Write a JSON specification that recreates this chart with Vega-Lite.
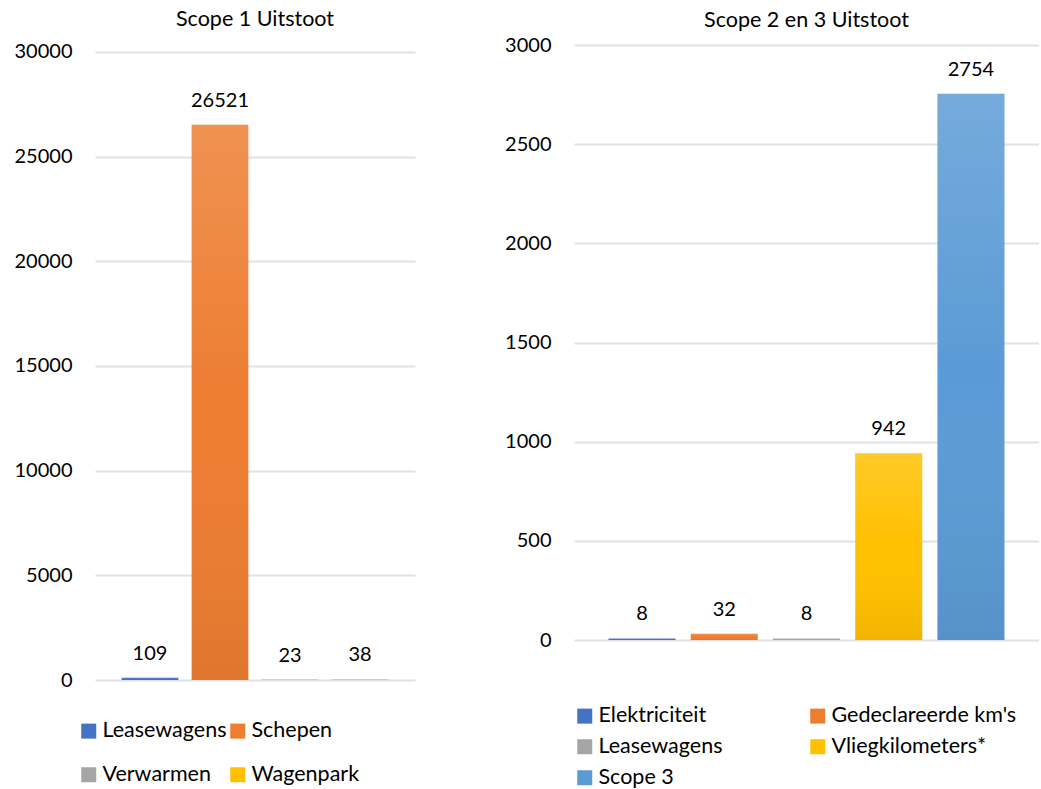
{
  "$schema": "https://vega.github.io/schema/vega-lite/v6.json",
  "background": "white",
  "padding": {"left": 14, "top": 9, "right": 0, "bottom": 0},
  "spacing": 89,
  "config": {
    "font": "Lato",
    "view": {"stroke": null},
    "axis": {"labelFont": "Lato", "labelFontSize": 20, "labelColor": "#000000", "domain": false, "ticks": false, "tickSize": 0, "labelPadding": 23, "gridColor": "#DDE2E8", "gridWidth": 2, "title": null, "format": "d"},
    "title": {"font": "Lato", "fontSize": 21.5, "fontWeight": "normal", "color": "#000000", "anchor": "middle"},
    "legend": {"labelFont": "Lato", "labelFontSize": 21.5, "labelColor": "#000000", "symbolType": "square", "symbolSize": 225, "symbolStrokeWidth": 0, "title": null, "labelOffset": 3, "labelLimit": 400, "direction": "horizontal"}
  },
  "resolve": {"scale": {"color": "independent", "x": "independent", "y": "independent"}, "legend": {"color": "independent"}},
  "hconcat": [
    {
      "title": {"text": "Scope 1 Uitstoot", "offset": 11},
      "width": 320,
      "height": 635,
      "data": {"values": [
        {"categorie": "Leasewagens", "waarde": 109},
        {"categorie": "Schepen", "waarde": 26521},
        {"categorie": "Verwarmen", "waarde": 23},
        {"categorie": "Wagenpark", "waarde": 38}
      ]},
      "encoding": {
        "x": {"field": "categorie", "type": "nominal", "sort": null, "axis": null, "scale": {"paddingInner": 0.19, "paddingOuter": 0.38}},
        "y": {"field": "waarde", "type": "quantitative", "scale": {"domain": [0, 30334], "nice": false}, "axis": {"values": [0, 5000, 10000, 15000, 20000, 25000, 30000]}}
      },
      "layer": [
        {
          "mark": {"type": "bar", "opacity": 1},
          "encoding": {
            "color": {"field": "categorie", "type": "nominal", "sort": null,
              "scale": {"domain": ["Leasewagens", "Schepen", "Verwarmen", "Wagenpark"], "range": ["#4472C4", "#ED7D31", "#A5A5A5", "#FFC000"]},
              "legend": {"orient": "none", "legendX": -17, "legendY": 675, "columns": 2, "columnPadding": 0, "rowPadding": 21}}
          }
        },
        {
          "mark": {"type": "bar", "color": {"gradient": "linear", "x1": 0, "y1": 0, "x2": 0, "y2": 1, "stops": [{"offset": 0, "color": "rgba(255,255,255,0.16)"}, {"offset": 0.5, "color": "rgba(255,255,255,0)"}, {"offset": 1, "color": "rgba(0,0,0,0.06)"}]}},
          "encoding": {}
        },
        {
          "mark": {"type": "text", "fontSize": 20, "color": "#000000", "dy": -18, "baseline": "alphabetic"},
          "encoding": {"text": {"field": "waarde", "type": "quantitative"}}
        }
      ]
    },
    {
      "title": {"text": "Scope 2 en 3 Uitstoot", "offset": 4},
      "width": 465,
      "height": 595,
      "data": {"values": [
        {"categorie": "Elektriciteit", "waarde": 8},
        {"categorie": "Gedeclareerde km's", "waarde": 32},
        {"categorie": "Leasewagens", "waarde": 8},
        {"categorie": "Vliegkilometers*", "waarde": 942},
        {"categorie": "Scope 3", "waarde": 2754}
      ]},
      "encoding": {
        "x": {"field": "categorie", "type": "nominal", "sort": null, "axis": null, "scale": {"paddingInner": 0.185, "paddingOuter": 0.42}},
        "y": {"field": "waarde", "type": "quantitative", "scale": {"domain": [0, 3000], "nice": false}, "axis": {"values": [0, 500, 1000, 1500, 2000, 2500, 3000]}}
      },
      "layer": [
        {
          "mark": {"type": "bar", "opacity": 1},
          "encoding": {
            "color": {"field": "categorie", "type": "nominal", "sort": null,
              "scale": {"domain": ["Elektriciteit", "Gedeclareerde km's", "Leasewagens", "Vliegkilometers*", "Scope 3"], "range": ["#4472C4", "#ED7D31", "#A5A5A5", "#FFC000", "#5B9BD5"]},
              "legend": {"orient": "none", "legendX": 0, "legendY": 660, "columns": 2, "columnPadding": 84, "rowPadding": 8}}
          }
        },
        {
          "mark": {"type": "bar", "color": {"gradient": "linear", "x1": 0, "y1": 0, "x2": 0, "y2": 1, "stops": [{"offset": 0, "color": "rgba(255,255,255,0.16)"}, {"offset": 0.5, "color": "rgba(255,255,255,0)"}, {"offset": 1, "color": "rgba(0,0,0,0.06)"}]}},
          "encoding": {}
        },
        {
          "mark": {"type": "text", "fontSize": 20, "color": "#000000", "dy": -18, "baseline": "alphabetic"},
          "encoding": {"text": {"field": "waarde", "type": "quantitative"}}
        }
      ]
    }
  ]
}
